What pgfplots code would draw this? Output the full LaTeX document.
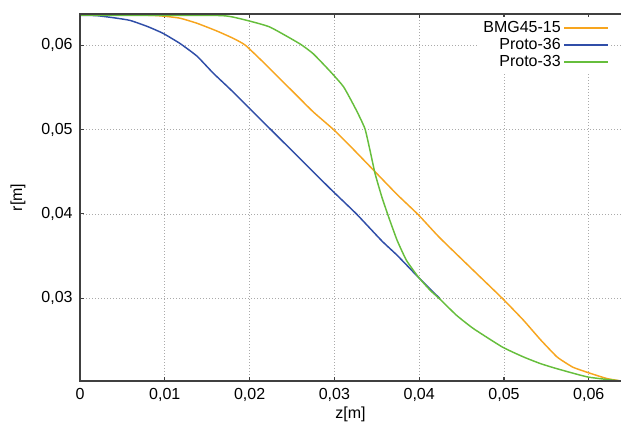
\documentclass[border=0pt]{standalone}
\usepackage{fontspec}
\setmainfont{Liberation Sans}
\usepackage{pgfplots}
\pgfplotsset{compat=1.18}
\definecolor{cOrange}{RGB}{247,165,30}
\definecolor{cBlue}{RGB}{48,78,168}
\definecolor{cGreen}{RGB}{102,190,60}
\definecolor{cAxis}{RGB}{64,64,64}
\definecolor{cGrid}{RGB}{170,170,170}
\begin{document}
\begin{tikzpicture}
\begin{axis}[
  name=ax,
  scale only axis,
  width=405.75pt, height=275.25pt,
  xmin=0, xmax=0.0638,
  ymin=0.0202, ymax=0.0637,
  xtick={0,0.01,0.02,0.03,0.04,0.05,0.06},
  ytick={0.03,0.04,0.05,0.06},
  scaled ticks=false,
  /pgf/number format/.cd, fixed, precision=2, use comma, assume math mode=true,
  /pgfplots/.cd,
  tick label style={font=\fontsize{12}{14.4}\selectfont, text=black},
  xticklabel style={yshift=-2pt},
  yticklabel style={xshift=-2pt},
  tick align=inside,
  xtick pos=both,
  ytick pos=left,
  major tick length=3pt,
  tick style={cAxis, line width=0.8pt},
  axis line style={draw=none},
  grid=major,
  major grid style={cGrid, line width=0.6pt, dash pattern=on 0.75pt off 1.5pt},
  xlabel={z[m]}, ylabel={r[m]},
  every axis x label/.style={at={(rel axis cs:0.5,0)}, anchor=center, yshift=-24.75pt, font=\fontsize{12}{14.4}\selectfont},
  every axis y label/.style={at={(rel axis cs:0,0.5)}, anchor=center, xshift=-46.5pt, rotate=90, font=\fontsize{12}{14.4}\selectfont},
  legend plot pos=right,
  legend cell align=right,
  legend image code/.code={\draw[#1, line width=1.5pt] (0pt,0pt) -- (33pt,0pt);},
  legend style={draw=none, fill=white, at={(rel axis cs:1,1)}, anchor=north east, xshift=-7.5pt, yshift=-2.4pt,
    font=\fontsize{12}{14.4}\selectfont, row sep=-1.2pt, inner sep=1pt},
  every axis plot/.append style={line width=1.1pt, line join=round, smooth, tension=0.3},
]
\addplot[color=cOrange] coordinates {
(0,0.06355) (0.0080,0.06355) (0.0098,0.06345) (0.0118,0.0632) (0.0138,0.0626) (0.0161,0.0617)
(0.0181,0.0608) (0.0195,0.0600) (0.0216,0.0580) (0.0236,0.0560) (0.0255,0.0541) (0.0275,0.0521)
(0.0299,0.0500) (0.0321,0.0478) (0.0348,0.0450) (0.0374,0.0423) (0.0399,0.0399) (0.0424,0.0372)
(0.0464,0.0333) (0.0498,0.0300) (0.0523,0.0274) (0.0543,0.0251) (0.0562,0.0231) (0.0572,0.0224)
(0.0582,0.0218) (0.0599,0.0212) (0.0621,0.0205) (0.0638,0.0202)
};
\addlegendentry{BMG45-15}
\addplot[color=cBlue] coordinates {
(0,0.06355) (0.002,0.0635) (0.004,0.06325) (0.0059,0.06294) (0.0080,0.0622) (0.0098,0.0614)
(0.0118,0.0602) (0.0138,0.0587) (0.0157,0.0567) (0.0177,0.0548) (0.0197,0.0528) (0.0214,0.0511)
(0.0225,0.0500) (0.0259,0.0466) (0.0295,0.0430) (0.0326,0.0400) (0.0356,0.0368) (0.0374,0.0351)
(0.0398,0.0326) (0.0413,0.0311) (0.0424,0.0300)
};
\addlegendentry{Proto-36}
\addplot[color=cGreen] coordinates {
(0,0.06355) (0.0157,0.06353) (0.0177,0.0634) (0.0197,0.06294) (0.0224,0.06215) (0.0259,0.06018)
(0.0275,0.05899) (0.0295,0.0569) (0.0311,0.05504) (0.0326,0.05227) (0.0336,0.05011) (0.0342,0.04754)
(0.0348,0.04477) (0.0356,0.0420) (0.0364,0.03963) (0.0374,0.03687) (0.0385,0.0345) (0.0399,0.03252)
(0.0413,0.03095) (0.0425,0.02985) (0.0444,0.02799) (0.0464,0.02641) (0.0498,0.02423) (0.0523,0.02305)
(0.0543,0.02226) (0.0562,0.02167) (0.0599,0.02067) (0.0638,0.0202)
};
\addlegendentry{Proto-33}
\end{axis}
\draw[cAxis, line width=1pt] (ax.north east) -- (ax.north west) -- (ax.south west) -- (ax.south east);
\pgfresetboundingbox
\path[use as bounding box] ([xshift=-60pt,yshift=-31.5pt]ax.south west) rectangle ([yshift=10.5pt]ax.north east);
\end{tikzpicture}
\end{document}
